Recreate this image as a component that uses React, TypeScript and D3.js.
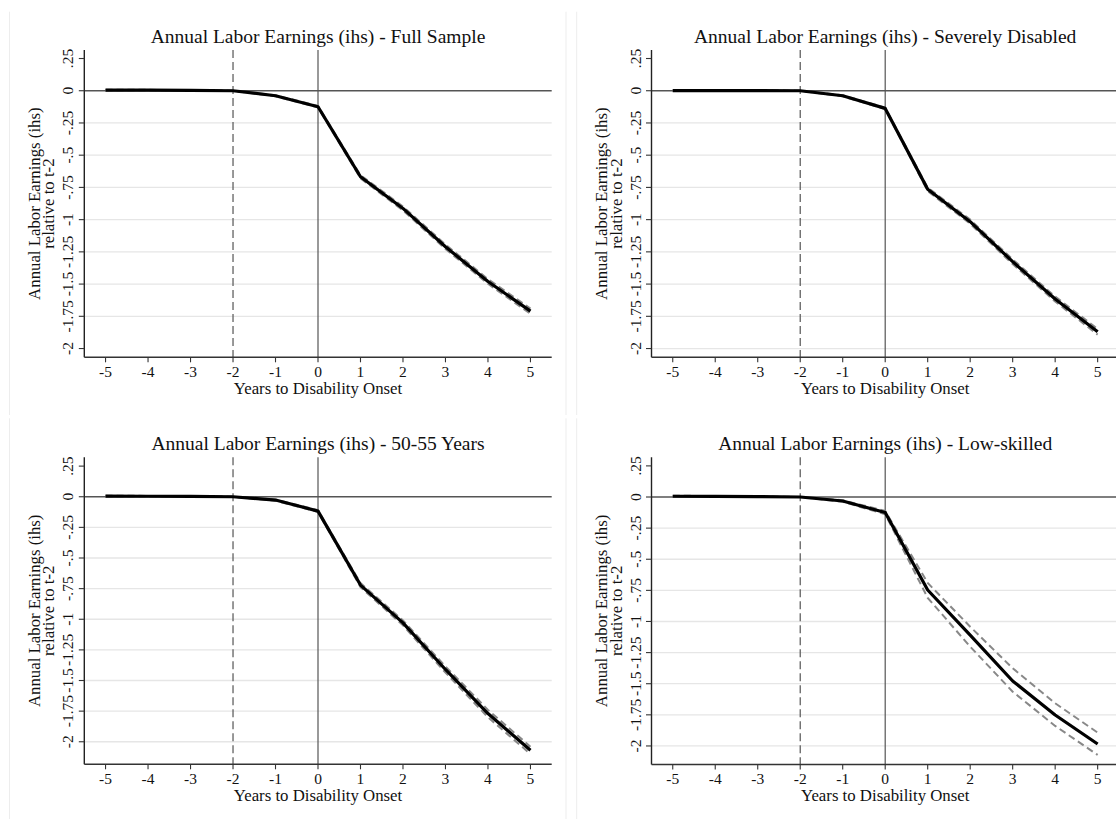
import React from "react";
import * as d3 from "d3";

// ---- Data ----
const years = [-5, -4, -3, -2, -1, 0, 1, 2, 3, 4, 5];
const xTicks = [-5, -4, -3, -2, -1, 0, 1, 2, 3, 4, 5];
const yTicks = [0.25, 0, -0.25, -0.5, -0.75, -1, -1.25, -1.5, -1.75, -2];
const yTickLabels = [".25", "0", "-.25", "-.5", "-.75", "-1", "-1.25", "-1.5", "-1.75", "-2"];

const titles = [
  "Annual Labor Earnings (ihs) - Full Sample",
  "Annual Labor Earnings (ihs) - Severely Disabled",
  "Annual Labor Earnings (ihs) - 50-55 Years",
  "Annual Labor Earnings (ihs) - Low-skilled",
];

const fullEst = [0.005, 0.004, 0.003, 0, -0.039, -0.124, -0.667, -0.913, -1.21, -1.48, -1.71];
const fullHi = [0.008, 0.007, 0.005, 0, -0.035, -0.118, -0.655, -0.898, -1.193, -1.462, -1.69];
const fullLo = [0.002, 0.001, 0.001, 0, -0.043, -0.13, -0.679, -0.928, -1.227, -1.498, -1.73];

const severeEst = [0.001, 0.001, 0.001, 0, -0.039, -0.137, -0.765, -1.016, -1.326, -1.616, -1.87];
const severeHi = [0.004, 0.004, 0.003, 0, -0.035, -0.131, -0.752, -1.0, -1.308, -1.597, -1.848];
const severeLo = [-0.002, -0.002, -0.001, 0, -0.043, -0.143, -0.778, -1.032, -1.344, -1.635, -1.892];

const ageEst = [0.005, 0.004, 0.003, 0, -0.027, -0.117, -0.721, -1.03, -1.41, -1.77, -2.07];
const ageHi = [0.008, 0.007, 0.005, 0, -0.022, -0.11, -0.705, -1.01, -1.385, -1.74, -2.04];
const ageLo = [0.002, 0.001, 0.001, 0, -0.032, -0.124, -0.737, -1.05, -1.435, -1.8, -2.1];

const lowEst = [0.006, 0.005, 0.003, 0, -0.032, -0.125, -0.747, -1.11, -1.478, -1.751, -1.984];
const lowHi = [0.01, 0.008, 0.005, 0, -0.026, -0.112, -0.69, -1.042, -1.376, -1.657, -1.893];
const lowLo = [0.002, 0.002, 0.001, 0, -0.038, -0.138, -0.81, -1.202, -1.564, -1.839, -2.072];

const seriesSets = [
  { est: fullEst, lo: fullLo, hi: fullHi },
  { est: severeEst, lo: severeLo, hi: severeHi },
  { est: ageEst, lo: ageLo, hi: ageHi },
  { est: lowEst, lo: lowLo, hi: lowHi },
];

// ---- Layout ----
const W = 1116;
const H = 819;
const FONT = "'Liberation Serif', 'Times New Roman', serif";

const layouts = [
  { left: 84.3, right: 551.7, top: 50, bottom: 357.3, yDomain: [-2.068, 0.316], titleY: 42.5, border: [9.5, 566], bTop: 11.7, bBot: 415, gridAtMin: false },
  { left: 651.5, right: 1118.9, top: 50, bottom: 357.3, yDomain: [-2.068, 0.316], titleY: 42.5, border: [576.7, 1133], bTop: 11.7, bBot: 415, gridAtMin: true },
  { left: 84.3, right: 551.7, top: 457.3, bottom: 764.3, yDomain: [-2.184, 0.322], titleY: 450, border: [9.5, 566], bTop: 418.3, bBot: 830, gridAtMin: true },
  { left: 651.5, right: 1118.9, top: 457.3, bottom: 764.5, yDomain: [-2.149, 0.319], titleY: 450, border: [576.7, 1133], bTop: 418.3, bBot: 830, gridAtMin: true },
];

function Panel({ idx }: { idx: number }) {
  const L = layouts[idx];
  const S = seriesSets[idx];
  const x = d3.scaleLinear().domain([-5.5, 5.5]).range([L.left, L.right]);
  const y = d3.scaleLinear().domain(L.yDomain).range([L.bottom, L.top]);
  const line = d3
    .line<number>()
    .x((_, i) => x(years[i]))
    .y((v) => y(v));
  const cx = (L.left + L.right) / 2;
  const cy = (L.top + L.bottom) / 2;
  const gridTicks = yTicks.filter((t) => t !== 0 && t !== 0.25 && (L.gridAtMin || t !== -2));
  return (
    <g>
      {/* faint panel borders */}
      {L.border.map((bx, i) => (
        <line key={"b" + i} x1={bx} x2={bx} y1={L.bTop} y2={L.bBot} stroke="#ededed" strokeWidth={1} />
      ))}
      {/* title */}
      <text x={cx} y={L.titleY} textAnchor="middle" fontFamily={FONT} fontSize={19.5} fill="#111">
        {titles[idx]}
      </text>
      {/* gridlines */}
      {gridTicks.map((t) => (
        <line key={"g" + t} x1={L.left} x2={L.right} y1={y(t)} y2={y(t)} stroke="#e6e6e6" strokeWidth={1.3} />
      ))}
      {/* reference lines */}
      <line x1={L.left} x2={L.right} y1={y(0)} y2={y(0)} stroke="#555" strokeWidth={1.6} />
      <line x1={x(0)} x2={x(0)} y1={L.top} y2={L.bottom} stroke="#555" strokeWidth={1.2} />
      <line x1={x(-2)} x2={x(-2)} y1={L.top} y2={L.bottom} stroke="#555" strokeWidth={1.2} strokeDasharray="8,4" />
      {/* CI lines */}
      <path d={line(S.hi) || ""} fill="none" stroke="#888" strokeWidth={2} strokeDasharray="7,4" />
      <path d={line(S.lo) || ""} fill="none" stroke="#888" strokeWidth={2} strokeDasharray="7,4" />
      {/* estimate */}
      <path d={line(S.est) || ""} fill="none" stroke="#000" strokeWidth={3.2} strokeLinejoin="round" />
      {/* axes */}
      <line x1={L.left} x2={L.left} y1={L.top} y2={L.bottom} stroke="#222" strokeWidth={1.4} />
      <line x1={L.left} x2={L.right} y1={L.bottom} y2={L.bottom} stroke="#333" strokeWidth={1.4} />
      {/* y ticks */}
      {yTicks.map((t, i) => (
        <g key={"yt" + t}>
          <line x1={L.left - 5.5} x2={L.left} y1={y(t)} y2={y(t)} stroke="#333" strokeWidth={1.1} />
          <text
            transform={`translate(${L.left - 11},${y(t)}) rotate(-90)`}
            textAnchor="middle"
            fontFamily={FONT}
            fontSize={15.5}
            fill="#111"
          >
            {yTickLabels[i]}
          </text>
        </g>
      ))}
      {/* x ticks */}
      {xTicks.map((t) => (
        <g key={"xt" + t}>
          <line x1={x(t)} x2={x(t)} y1={L.bottom} y2={L.bottom + 5} stroke="#333" strokeWidth={1.1} />
          <text x={x(t)} y={L.bottom + 19.5} textAnchor="middle" fontFamily={FONT} fontSize={15.5} fill="#111">
            {String(t)}
          </text>
        </g>
      ))}
      {/* axis titles */}
      <text x={cx} y={L.bottom + 36.8} textAnchor="middle" fontFamily={FONT} fontSize={16.8} fill="#111">
        Years to Disability Onset
      </text>
      <text
        transform={`translate(${L.left - 44.3},${cy}) rotate(-90)`}
        textAnchor="middle"
        fontFamily={FONT}
        fontSize={16.8}
        fill="#111"
      >
        Annual Labor Earnings (ihs)
      </text>
      <text
        transform={`translate(${L.left - 30},${cy}) rotate(-90)`}
        textAnchor="middle"
        fontFamily={FONT}
        fontSize={16.8}
        fill="#111"
      >
        relative to t-2
      </text>
    </g>
  );
}

export default function App() {
  return (
    <svg
      width={W}
      height={H}
      viewBox={`0 0 ${W} ${H}`}
      style={{ position: "absolute", left: 0, top: 0, display: "block", background: "#fff" }}
    >
      <rect x={0} y={0} width={W} height={H} fill="#fff" />
      {[0, 1, 2, 3].map((i) => (
        <Panel key={i} idx={i} />
      ))}
    </svg>
  );
}
